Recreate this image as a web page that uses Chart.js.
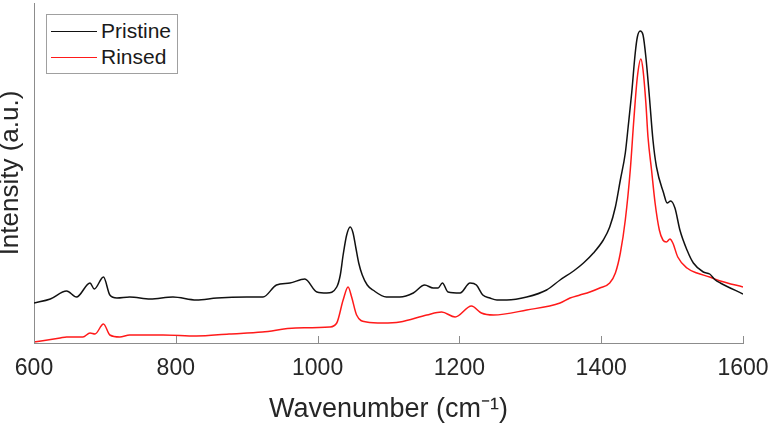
<!DOCTYPE html>
<html>
<head>
<meta charset="utf-8">
<title>Raman spectra</title>
<script src="https://cdn.jsdelivr.net/npm/chart.js@4/dist/chart.umd.min.js"></script>
<style>
    html, body { margin: 0; padding: 0; background: #fff; }
    #wrap { position: relative; width: 771px; height: 426px; }
    #legend {
        position: absolute; left: 46px; top: 14px;
        border: 1px solid #a0a0a0; background: #fff;
        padding: 3px 6px 3px 4px;
        font-family: "Liberation Sans", Arial, sans-serif; font-size: 21px; color: #1a1a1a;
    }
    #legend .row { display: flex; align-items: center; height: 26px; }
    #legend .swatch { width: 46px; height: 0; margin-right: 4px; }
</style>
</head>
<body>
<div id="wrap">
    <canvas id="spectrum" width="771" height="426"></canvas>
    <div id="legend"></div>
</div>
<script>
// Wavenumbers (cm-1) and intensities (a.u.)
var pristineX = [600, 623, 646, 660, 679, 685, 698, 707, 717, 735, 764, 796, 829, 858, 900, 923, 942, 961, 982, 999,
    1013, 1027, 1032, 1036, 1041, 1046, 1050, 1054, 1058, 1063, 1070, 1078, 1097, 1116, 1135, 1151, 1163, 1170, 1176, 1184,
    1201, 1215, 1224, 1233, 1243, 1253, 1267, 1295, 1323, 1342, 1361, 1375, 1389, 1403, 1412, 1420, 1427, 1434, 1438, 1443,
    1448, 1451, 1455, 1459, 1463, 1468, 1473, 1478, 1488, 1493, 1498, 1504, 1511, 1521, 1530, 1544, 1553, 1561, 1568, 1600];
var pristineY = [40, 44, 52, 46, 60, 54, 66, 48, 45, 46, 44, 46, 43, 45, 46, 46, 58, 60, 64, 51,
    50, 56, 68, 88, 108, 116, 110, 95, 80, 68, 58, 53, 46, 46, 50, 58, 55, 55, 60, 51,
    50, 60, 58, 48, 45, 43, 43, 46, 53, 63, 72, 80, 90, 103, 116, 136, 163, 190, 216, 250,
    290, 306, 312, 308, 286, 246, 203, 176, 150, 140, 142, 135, 113, 93, 80, 71, 69, 63, 60, 49];

var rinsedX = [600, 637, 646, 669, 679, 686, 698, 707, 721, 735, 782, 829, 875, 922, 969, 1017, 1027, 1036, 1043, 1048,
    1055, 1069, 1092, 1116, 1154, 1175, 1194, 1217, 1231, 1248, 1295, 1342, 1356, 1370, 1384, 1398, 1412, 1420, 1427, 1434,
    1441, 1446, 1451, 1456, 1459, 1463, 1466, 1471, 1476, 1482, 1487, 1492, 1497, 1501, 1508, 1521, 1535, 1553, 1568, 1600];
var rinsedY = [1, 5, 6, 6, 10, 9, 19, 8, 6, 8, 8, 7, 9, 11, 15, 16, 20, 43, 56, 46,
    28, 21, 20, 21, 28, 31, 26, 37, 30, 28, 33, 40, 45, 48, 51, 55, 60, 70, 90, 123,
    173, 223, 266, 284, 273, 240, 206, 173, 140, 113, 103, 101, 104, 100, 86, 75, 70, 66, 62, 56];

var xTicks = [600, 800, 1000, 1200, 1400, 1600];

function toPoints(xs, ys) {
    return xs.map(function (x, i) { return { x: x, y: ys[i] }; });
}

var axisColor = '#8c8c8c';
var textColor = '#262626';
var fontFamily = '"Liberation Sans", Arial, sans-serif';

// Draw MATLAB style ticks that point into the plot
var inwardTicks = {
    id: 'inwardTicks',
    afterDraw: function (chart) {
        var ctx = chart.ctx;
        var xs = chart.scales.x;
        var bottom = chart.chartArea.bottom;
        ctx.save();
        ctx.strokeStyle = axisColor;
        ctx.lineWidth = 1;
        xTicks.forEach(function (t) {
            var px = Math.round(xs.getPixelForValue(t)) + 0.5;
            ctx.beginPath();
            ctx.moveTo(px, bottom);
            ctx.lineTo(px, bottom - 7);
            ctx.stroke();
        });
        ctx.restore();
    }
};

var ctx = document.getElementById('spectrum').getContext('2d');
var chart = new Chart(ctx, {
    type: 'line',
    data: {
        datasets: [{
            label: 'Pristine',
            data: toPoints(pristineX, pristineY),
            borderColor: '#111111',
            borderWidth: 1.5,
            pointRadius: 0,
            cubicInterpolationMode: 'monotone'
        }, {
            label: 'Rinsed',
            data: toPoints(rinsedX, rinsedY),
            borderColor: '#ff1a1a',
            borderWidth: 1.5,
            pointRadius: 0,
            cubicInterpolationMode: 'monotone'
        }]
    },
    options: {
        responsive: false,
        animation: false,
        events: [],
        layout: { padding: { top: 3, right: 28, left: 0, bottom: 0 } },
        plugins: {
            legend: { display: false },
            tooltip: { enabled: false }
        },
        scales: {
            x: {
                type: 'linear',
                min: 600,
                max: 1600,
                afterBuildTicks: function (scale) {
                    scale.ticks = xTicks.map(function (v) { return { value: v }; });
                },
                afterFit: function (scale) {
                    scale.height = 83;
                    scale.paddingLeft = 0;  // let the end labels hang past the axis
                    scale.paddingRight = 0;
                },
                border: { color: axisColor, width: 1 },
                grid: { drawOnChartArea: false, drawTicks: false },
                ticks: {
                    padding: 12,
                    color: textColor,
                    font: { family: fontFamily, size: 23 },
                    maxRotation: 0,
                    callback: function (v) { return String(v); }
                },
                title: {
                    display: true,
                    text: 'Wavenumber (cm\u207B\u00B9)',
                    color: textColor,
                    font: { family: fontFamily, size: 27, lineHeight: 1 },
                    padding: { top: 0, bottom: 3 }
                }
            },
            y: {
                min: 0,
                max: 340,
                afterFit: function (scale) { scale.width = 34; },
                border: { color: axisColor, width: 1 },
                grid: { drawOnChartArea: false, drawTicks: false },
                ticks: { display: false },
                title: {
                    display: true,
                    text: 'Intensity (a.u.)',
                    color: textColor,
                    font: { family: fontFamily, size: 26, lineHeight: 0.85 },
                    padding: 0
                }
            }
        }
    },
    plugins: [inwardTicks]
});

// Build the legend box from the chart datasets
var legend = document.getElementById('legend');
chart.data.datasets.forEach(function (ds) {
    var row = document.createElement('div');
    row.className = 'row';
    var sw = document.createElement('span');
    sw.className = 'swatch';
    sw.style.borderTop = '1.5px solid ' + ds.borderColor;
    var label = document.createElement('span');
    label.textContent = ds.label;
    row.appendChild(sw);
    row.appendChild(label);
    legend.appendChild(row);
});
</script>
</body>
</html>
